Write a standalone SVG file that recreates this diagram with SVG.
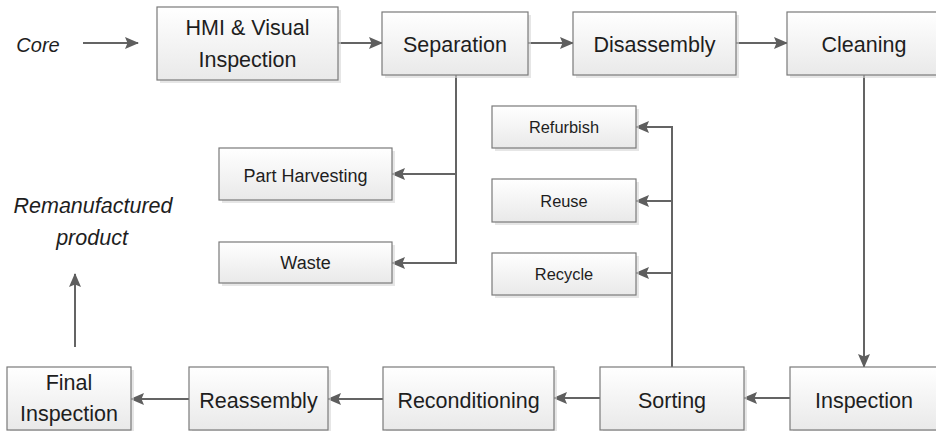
<svg xmlns="http://www.w3.org/2000/svg" width="936" height="431" viewBox="0 0 936 431">
<defs>
<linearGradient id="g" x1="0" y1="0" x2="0" y2="1">
<stop offset="0" stop-color="#ffffff"/>
<stop offset="1" stop-color="#e9e9e9"/>
</linearGradient>
<marker id="ah" viewBox="0 0 14 12" markerWidth="14" markerHeight="12" refX="13" refY="6" orient="auto" markerUnits="userSpaceOnUse">
<path d="M0,0 L14,6 L0,12 L2.5,6 Z" fill="#5e5e5e"/>
</marker>
</defs>
<style>
.sh{fill:#d6d6d6;opacity:0.6}
.bx{fill:url(#g);stroke:#7a7a7a;stroke-width:1.2}
.t{font-family:"Liberation Sans",Arial,sans-serif;fill:#1e1e1e;text-anchor:middle;font-size:21.5px}
.s{font-family:"Liberation Sans",Arial,sans-serif;fill:#1e1e1e;text-anchor:middle}
.it{font-family:"Liberation Sans",Arial,sans-serif;fill:#1e1e1e;font-style:italic;text-anchor:middle}
.c{fill:none;stroke:#646464;stroke-width:2}
.a{marker-end:url(#ah)}
</style>
<rect width="936" height="431" fill="#ffffff"/>

<g id="connectors">
<line class="c a" x1="83" y1="43" x2="138" y2="43"/>
<line class="c a" x1="338" y1="43" x2="382" y2="43"/>
<line class="c a" x1="528" y1="43" x2="573" y2="43"/>
<line class="c a" x1="736" y1="43" x2="787" y2="43"/>
<line class="c a" x1="864" y1="75" x2="864" y2="367"/>
<line class="c a" x1="790" y1="398" x2="744" y2="398"/>
<line class="c a" x1="600" y1="398" x2="554" y2="398"/>
<line class="c a" x1="383" y1="399" x2="328" y2="399"/>
<line class="c a" x1="189" y1="399" x2="131" y2="399"/>
<line class="c a" x1="75" y1="347" x2="75" y2="274"/>
<polyline class="c" points="456,75 456,263"/>
<line class="c a" x1="456" y1="174" x2="392" y2="174"/>
<line class="c a" x1="457" y1="263" x2="392" y2="263"/>
<polyline class="c" points="672,367 672,127"/>
<line class="c a" x1="673" y1="127" x2="636" y2="127"/>
<line class="c a" x1="672" y1="201" x2="636" y2="201"/>
<line class="c a" x1="672" y1="273" x2="636" y2="273"/>
</g>

<g id="core"><text class="it" x="38" y="52" font-size="20">Core</text></g>
<g id="remanufactured"><text class="it" x="93" y="213" font-size="21.5">Remanufactured</text><text class="it" x="92" y="245" font-size="21.5">product</text></g>

<g id="hmi"><rect class="sh" x="160" y="10" width="181" height="73"/><rect class="bx" x="157" y="7" width="181" height="73"/>
<text class="t" x="247.5" y="35">HMI &amp; Visual</text><text class="t" x="247.5" y="67">Inspection</text></g>

<g id="separation"><rect class="sh" x="385" y="15" width="146" height="63"/><rect class="bx" x="382" y="12" width="146" height="63"/>
<text class="t" x="455" y="52">Separation</text></g>

<g id="disassembly"><rect class="sh" x="576" y="15" width="163" height="63"/><rect class="bx" x="573" y="12" width="163" height="63"/>
<text class="t" x="654.5" y="52">Disassembly</text></g>

<g id="cleaning"><rect class="sh" x="790" y="15" width="154" height="63"/><rect class="bx" x="787" y="12" width="154" height="63"/>
<text class="t" x="864" y="52">Cleaning</text></g>

<g id="part-harvesting"><rect class="sh" x="222" y="151" width="173" height="52"/><rect class="bx" x="219" y="148" width="173" height="52"/>
<text class="s" x="305.5" y="182" font-size="18">Part Harvesting</text></g>

<g id="waste"><rect class="sh" x="222" y="245" width="173" height="41"/><rect class="bx" x="219" y="242" width="173" height="41"/>
<text class="s" x="305.5" y="269" font-size="18">Waste</text></g>

<g id="refurbish"><rect class="sh" x="495" y="109" width="144" height="42"/><rect class="bx" x="492" y="106" width="144" height="42"/>
<text class="s" x="564" y="133" font-size="16.4">Refurbish</text></g>

<g id="reuse"><rect class="sh" x="495" y="182" width="144" height="43"/><rect class="bx" x="492" y="179" width="144" height="43"/>
<text class="s" x="564" y="207" font-size="16.4">Reuse</text></g>

<g id="recycle"><rect class="sh" x="495" y="256" width="144" height="42"/><rect class="bx" x="492" y="253" width="144" height="42"/>
<text class="s" x="564" y="280" font-size="16.4">Recycle</text></g>

<g id="inspection"><rect class="sh" x="793" y="370" width="151" height="63"/><rect class="bx" x="790" y="367" width="151" height="63"/>
<text class="t" x="864" y="408">Inspection</text></g>

<g id="sorting"><rect class="sh" x="603" y="370" width="144" height="63"/><rect class="bx" x="600" y="367" width="144" height="63"/>
<text class="t" x="672" y="408">Sorting</text></g>

<g id="reconditioning"><rect class="sh" x="386" y="370" width="171" height="63"/><rect class="bx" x="383" y="367" width="171" height="63"/>
<text class="t" x="468.5" y="408">Reconditioning</text></g>

<g id="reassembly"><rect class="sh" x="192" y="370" width="139" height="63"/><rect class="bx" x="189" y="367" width="139" height="63"/>
<text class="t" x="258.5" y="408">Reassembly</text></g>

<g id="final-inspection"><rect class="sh" x="10" y="370" width="124" height="63"/><rect class="bx" x="7" y="367" width="124" height="63"/>
<text class="t" x="69" y="390">Final</text><text class="t" x="69" y="421">Inspection</text></g>
</svg>
